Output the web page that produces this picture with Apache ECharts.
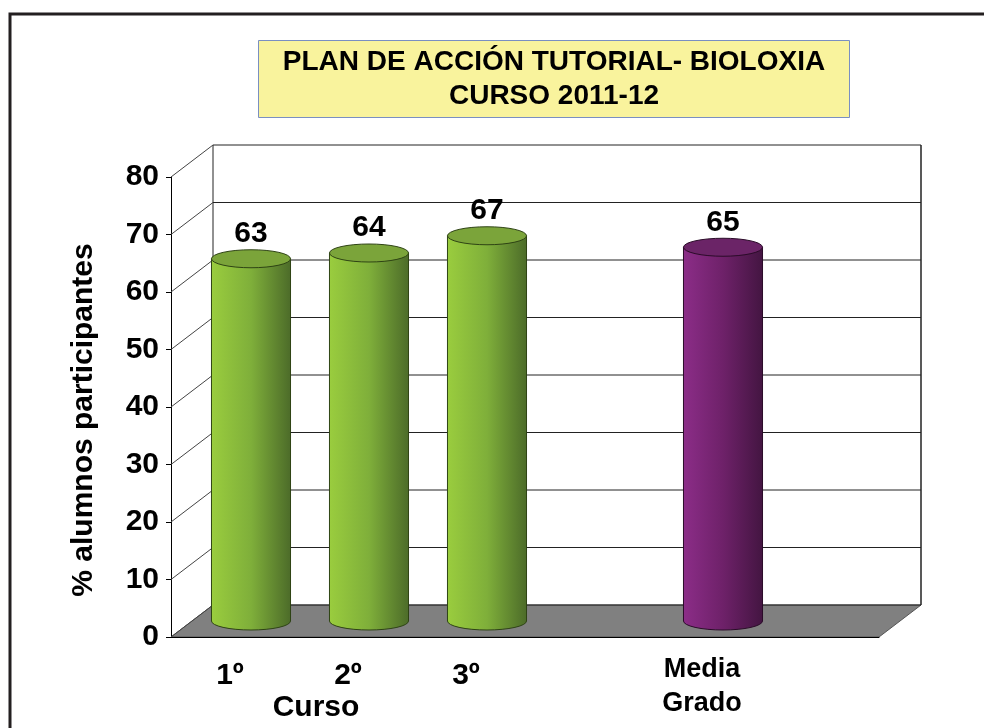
<!DOCTYPE html>
<html>
<head>
<meta charset="utf-8">
<style>
  html, body { margin: 0; padding: 0; background: #fff; }
  #chart { width: 984px; height: 728px; }
</style>
<script src="https://cdn.jsdelivr.net/npm/echarts@6/dist/echarts.min.js"></script>
</head>
<body>
<div id="chart"></div>
<script>
// datos
var categories = ['1º', '2º', '3º', '', 'Media\nGrado', ''];
var values = [63, 64, 67, null, 65, null];
var yTicks = [0, 10, 20, 30, 40, 50, 60, 70, 80];
var titleText = 'PLAN DE ACCIÓN TUTORIAL- BIOLOXIA\nCURSO 2011-12';

// profundidad del efecto 3D
var DX = 42;
var DY = -32;
var FONT = 'Arial, "Liberation Sans", sans-serif';

var green = { light: '#9ACD3E', mid: '#7FAF3A', dark: '#4C6B29', top: '#7BA43A', line: '#2E4314' };
var purple = { light: '#8C2D88', mid: '#6E2169', dark: '#431541', top: '#6B2467', line: '#2A0B28' };

var barData = [];
values.forEach(function (v, i) {
  if (v != null) barData.push([i, v]);
});

function renderBackdrop (params, api) {
  var cs = params.coordSys;
  var v = api.value(1);
  var x0 = cs.x;
  var x1 = cs.x + cs.width;
  var y = api.coord([0, v])[1];
  var lineStyle = { stroke: '#222', lineWidth: 1 };
  var children = [];
  if (v === 0) {
    var yTop = api.coord([0, yTicks[yTicks.length - 1]])[1];
    children.push({
      type: 'polygon',
      shape: { points: [[x0, y], [x1, y], [x1 + DX, y + DY], [x0 + DX, y + DY]] },
      style: { fill: '#808080', stroke: '#555', lineWidth: 1 }
    });
    children.push({ type: 'line', shape: { x1: x0 + DX, y1: y + DY, x2: x0 + DX, y2: yTop + DY }, style: lineStyle });
    children.push({ type: 'line', shape: { x1: x1 + DX, y1: y + DY, x2: x1 + DX, y2: yTop + DY }, style: { stroke: '#222', lineWidth: 1.5 } });
  }
  children.push({ type: 'line', shape: { x1: x0 + DX, y1: y + DY, x2: x1 + DX, y2: y + DY }, style: lineStyle });
  children.push({ type: 'line', shape: { x1: x0, y1: y, x2: x0 + DX, y2: y + DY }, style: { stroke: '#444', lineWidth: 1 } });
  return { type: 'group', children: children };
}

function renderCylinder (params, api) {
  var idx = api.value(0);
  var v = api.value(1);
  var base = api.coord([idx, 0]);
  var top = api.coord([idx, v]);
  var band = api.size([1, 0])[0];
  var c = categories[idx].indexOf('Media') === 0 ? purple : green;
  var cx = base[0] + DX / 2;
  var by = base[1] + DY / 2;
  var ty = top[1] + DY / 2;
  var rx = band * 0.335;
  var ry = 9;
  var grad = new echarts.graphic.LinearGradient(0, 0, 1, 0, [
    { offset: 0, color: c.light },
    { offset: 0.5, color: c.mid },
    { offset: 1, color: c.dark }
  ]);
  var body = 'M' + (cx - rx) + ',' + ty + ' L' + (cx - rx) + ',' + by +
    ' A' + rx + ',' + ry + ' 0 0 0 ' + (cx + rx) + ',' + by +
    ' L' + (cx + rx) + ',' + ty + ' Z';
  var cap = 'M' + (cx - rx) + ',' + ty +
    ' A' + rx + ',' + ry + ' 0 1 0 ' + (cx + rx) + ',' + ty +
    ' A' + rx + ',' + ry + ' 0 1 0 ' + (cx - rx) + ',' + ty + ' Z';
  return {
    type: 'group',
    children: [
      { type: 'path', shape: { pathData: body }, style: { fill: grad, stroke: c.line, lineWidth: 1 } },
      { type: 'path', shape: { pathData: cap }, style: { fill: c.top, stroke: c.line, lineWidth: 1 } },
      {
        type: 'text',
        style: {
          text: String(v), x: cx, y: ty - ry - 1,
          align: 'center', verticalAlign: 'bottom',
          fontSize: 30, fontWeight: 'bold', fontFamily: FONT, fill: '#000'
        }
      }
    ]
  };
}

var chart = echarts.init(document.getElementById('chart'));
chart.setOption({
  backgroundColor: '#fff',
  animation: false,
  title: {
    text: titleText,
    left: 529,
    top: 40,
    textAlign: 'center',
    backgroundColor: '#F9F39D',
    borderColor: '#7A8FC2',
    borderWidth: 1,
    padding: [5, 25],
    textStyle: { fontSize: 28, fontWeight: 'bold', fontFamily: FONT, color: '#000', lineHeight: 34 }
  },
  graphic: [{
    type: 'rect',
    z: -10,
    shape: { x: 10, y: 14, width: 1000, height: 800 },
    style: { fill: 'none', stroke: '#231f20', lineWidth: 3 }
  }],
  grid: { left: 171, right: 105, top: 177, bottom: 91 },
  xAxis: {
    type: 'category',
    data: categories,
    z: 5,
    name: 'Curso',
    nameLocation: 'start',
    nameGap: -145,
    nameTextStyle: {
      align: 'center', verticalAlign: 'top', padding: [56, 0, 0, 0],
      fontSize: 30, fontWeight: 'bold', fontFamily: FONT, color: '#000'
    },
    axisLine: { lineStyle: { color: '#000', width: 1 } },
    axisTick: { length: 7, lineStyle: { color: '#000' } },
    axisLabel: {
      margin: 16,
      interval: 0,
      formatter: function (v) {
        if (v.indexOf('\n') >= 0) {
          return v.split('\n').map(function (s) { return '{s|' + s + '}'; }).join('\n');
        }
        return '{b|' + v + '}';
      },
      rich: {
        b: { fontSize: 30, fontWeight: 'bold', fontFamily: FONT, color: '#000', lineHeight: 46 },
        s: { fontSize: 27, fontWeight: 'bold', fontFamily: FONT, color: '#000', lineHeight: 34 }
      }
    },
    splitLine: { show: false }
  },
  yAxis: {
    type: 'value',
    min: 0,
    max: 80,
    interval: 10,
    name: '% alumnos participantes',
    nameLocation: 'middle',
    nameGap: 72,
    nameTextStyle: { fontSize: 30, fontWeight: 'bold', fontFamily: FONT, color: '#000', padding: [0, 26, 0, 0] },
    axisLine: { show: true, lineStyle: { color: '#000', width: 1 } },
    axisTick: { show: true, length: 5, lineStyle: { color: '#000' } },
    axisLabel: { margin: 12, fontSize: 30, fontWeight: 'bold', fontFamily: FONT, color: '#000' },
    splitLine: { show: false }
  },
  series: [{
    type: 'custom',
    z: 1,
    silent: true,
    renderItem: renderBackdrop,
    data: yTicks.map(function (t) { return [0, t]; })
  }, {
    type: 'custom',
    z: 3,
    renderItem: renderCylinder,
    data: barData
  }]
});
</script>
</body>
</html>
